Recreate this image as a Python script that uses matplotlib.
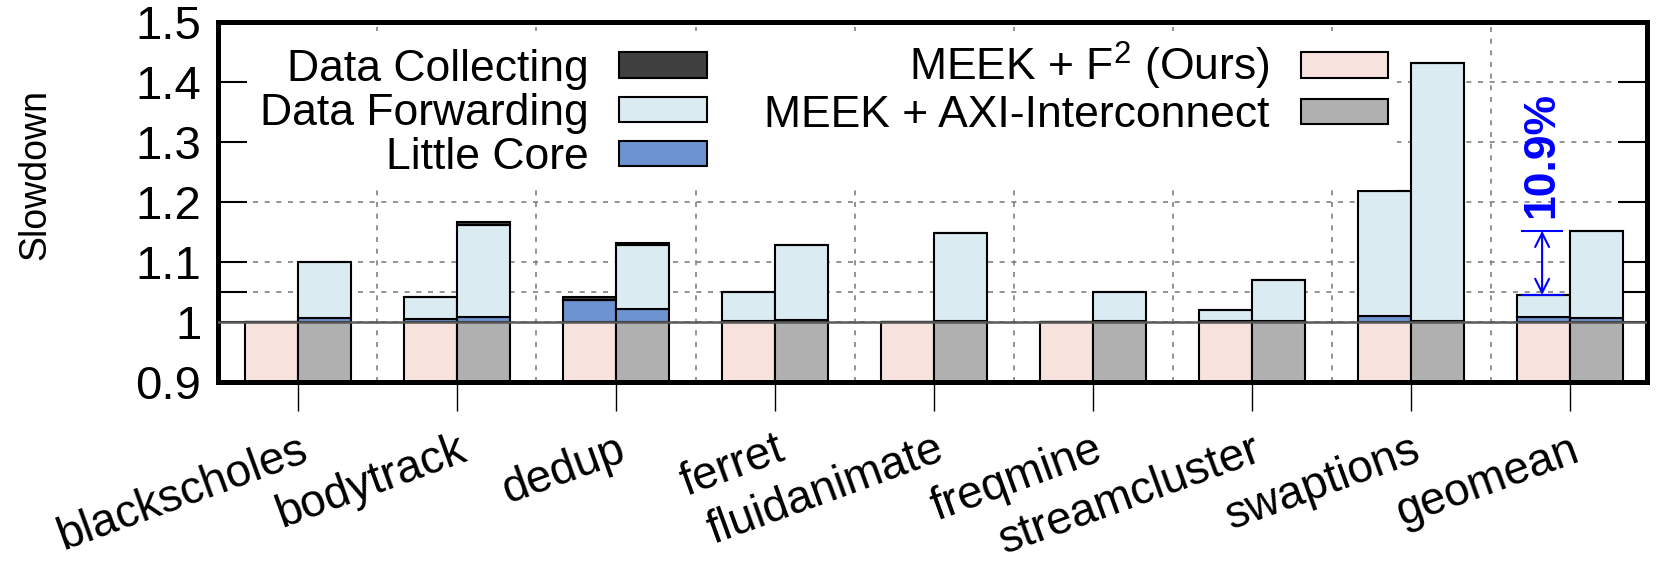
import matplotlib.pyplot as plt
from matplotlib.patches import Patch
import numpy as np

plt.rcParams['font.family'] = ['Liberation Sans', 'DejaVu Sans']
plt.rcParams['mathtext.fontset'] = 'custom'
plt.rcParams['mathtext.rm'] = 'Liberation Sans'

benchmarks = ['blackscholes', 'bodytrack', 'dedup', 'ferret', 'fluidanimate',
              'freqmine', 'streamcluster', 'swaptions', 'geomean']

# MEEK + F2 (Ours): base slowdown and stacked overheads
f2_base = [1.0, 1.0, 1.0, 1.0, 1.0, 1.0, 1.0, 1.0, 1.0]
f2_little = [0.0, 0.005, 0.036, 0.002, 0.0, 0.0, 0.002, 0.010, 0.008]
f2_fwd = [0.0, 0.037, 0.0, 0.048, 0.0, 0.0, 0.018, 0.209, 0.037]
f2_coll = [0.0, 0.0, 0.005, 0.0, 0.0, 0.0, 0.0, 0.0, 0.0]

# MEEK + AXI-Interconnect
axi_base = [1.0, 1.0, 1.0, 1.0, 1.0, 1.0, 1.0, 1.0, 1.0]
axi_little = [0.006, 0.009, 0.022, 0.004, 0.002, 0.002, 0.002, 0.002, 0.006]
axi_fwd = [0.094, 0.152, 0.106, 0.125, 0.147, 0.048, 0.068, 0.430, 0.146]
axi_coll = [0.0, 0.005, 0.003, 0.0, 0.0, 0.0, 0.0, 0.0, 0.0]

c_coll = '#404040'
c_fwd = '#dbebf2'
c_little = '#6d93d0'
c_f2 = '#f7e2de'
c_axi = '#b0b0b0'

fig = plt.figure(figsize=(16.59, 5.65), dpi=100)
ax = fig.add_axes([0.1314, 0.3239, 0.8614, 0.6372])

x = np.arange(len(benchmarks))
w = 0.333
ymin = 0.9

groups = [(x - w / 2, f2_base, f2_little, f2_fwd, f2_coll, c_f2),
          (x + w / 2, axi_base, axi_little, axi_fwd, axi_coll, c_axi)]
for xs, base, little, fwd, coll, col in groups:
    base = np.array(base)
    ax.bar(xs, base - ymin, w, bottom=ymin, color=col, edgecolor='black', lw=1.5)
    b = base.copy()
    for seg, sc in [(little, c_little), (fwd, c_fwd), (coll, c_coll)]:
        seg = np.array(seg)
        ax.bar(xs, seg, w, bottom=b, color=sc, edgecolor='black', lw=1.5)
        b = b + seg

ax.axhline(1.0, color='#5a5a5a', lw=1.8, zorder=3)

# gap annotation on geomean
top_f2 = f2_base[-1] + f2_little[-1] + f2_fwd[-1] + f2_coll[-1]
top_axi = axi_base[-1] + axi_little[-1] + axi_fwd[-1] + axi_coll[-1]
xa = x[-1] - 0.176
ax.hlines([top_f2, top_axi], xa - 0.13, xa + 0.13, color='blue', lw=1.5, zorder=4)
ax.annotate('', xy=(xa, top_axi), xytext=(xa, top_f2),
            arrowprops=dict(arrowstyle='<->', color='blue', lw=1.5,
                            shrinkA=0, shrinkB=0, mutation_scale=25), zorder=4)
ax.text(xa, 1.278, '10.9%', rotation=90, color='blue', fontweight='bold',
        fontsize=32, ha='center', va='center')

ax.set_xlim(-0.503, 8.484)
ax.set_ylim(0.9, 1.5)
ax.set_yticks([0.9, 1.0, 1.1, 1.2, 1.3, 1.4, 1.5])
ax.set_yticklabels(['0.9', '1', '1.1', '1.2', '1.3', '1.4', '1.5'])
ax.set_yticks([1.05], minor=True)
ax.set_xticks(x)
ax.set_xticklabels(benchmarks, rotation=20, ha='right', va='top',
                   rotation_mode='anchor', fontsize=33)
ax.set_xticks(x[:-1] + 0.5, minor=True)

ax.tick_params(axis='y', which='both', direction='in', length=21, width=1.5,
               left=True, right=True, labelsize=34, pad=12)
ax.tick_params(axis='x', which='major', direction='out', length=21, width=1, pad=12)
ax.tick_params(axis='x', which='minor', length=0)

ax.set_axisbelow(True)
ax.grid(axis='y', which='both', color='#808080', ls=(0, (3, 4)), lw=1.2)
ax.grid(axis='x', which='minor', color='#808080', ls=(0, (3, 4)), lw=1.2)

for s in ax.spines.values():
    s.set_linewidth(3.6)

ax.set_ylabel('Slowdown', fontsize=27)
ax.yaxis.set_label_coords(-0.115, 0.575)

handles = [Patch(facecolor=c_coll, edgecolor='black', lw=1.5),
           Patch(facecolor=c_fwd, edgecolor='black', lw=1.5),
           Patch(facecolor=c_little, edgecolor='black', lw=1.5),
           Patch(facecolor=c_f2, edgecolor='black', lw=1.5),
           Patch(facecolor=c_axi, edgecolor='black', lw=1.5),
           Patch(visible=False)]
labels = ['Data Collecting', 'Data Forwarding', 'Little Core',
          'MEEK + F$^2$ (Ours)', 'MEEK + AXI-Interconnect', '']
ax.legend(handles, labels, ncol=2, loc='upper right', bbox_to_anchor=(0.825, 0.975),
          markerfirst=False, frameon=True, fancybox=False, edgecolor='none',
          facecolor='white', framealpha=1, fontsize=32, handlelength=1.96,
          handleheight=0.5, labelspacing=0.075, columnspacing=1.3, borderpad=0.2,
          borderaxespad=0, handletextpad=0.7)

fig.savefig('out.png', dpi=100)
